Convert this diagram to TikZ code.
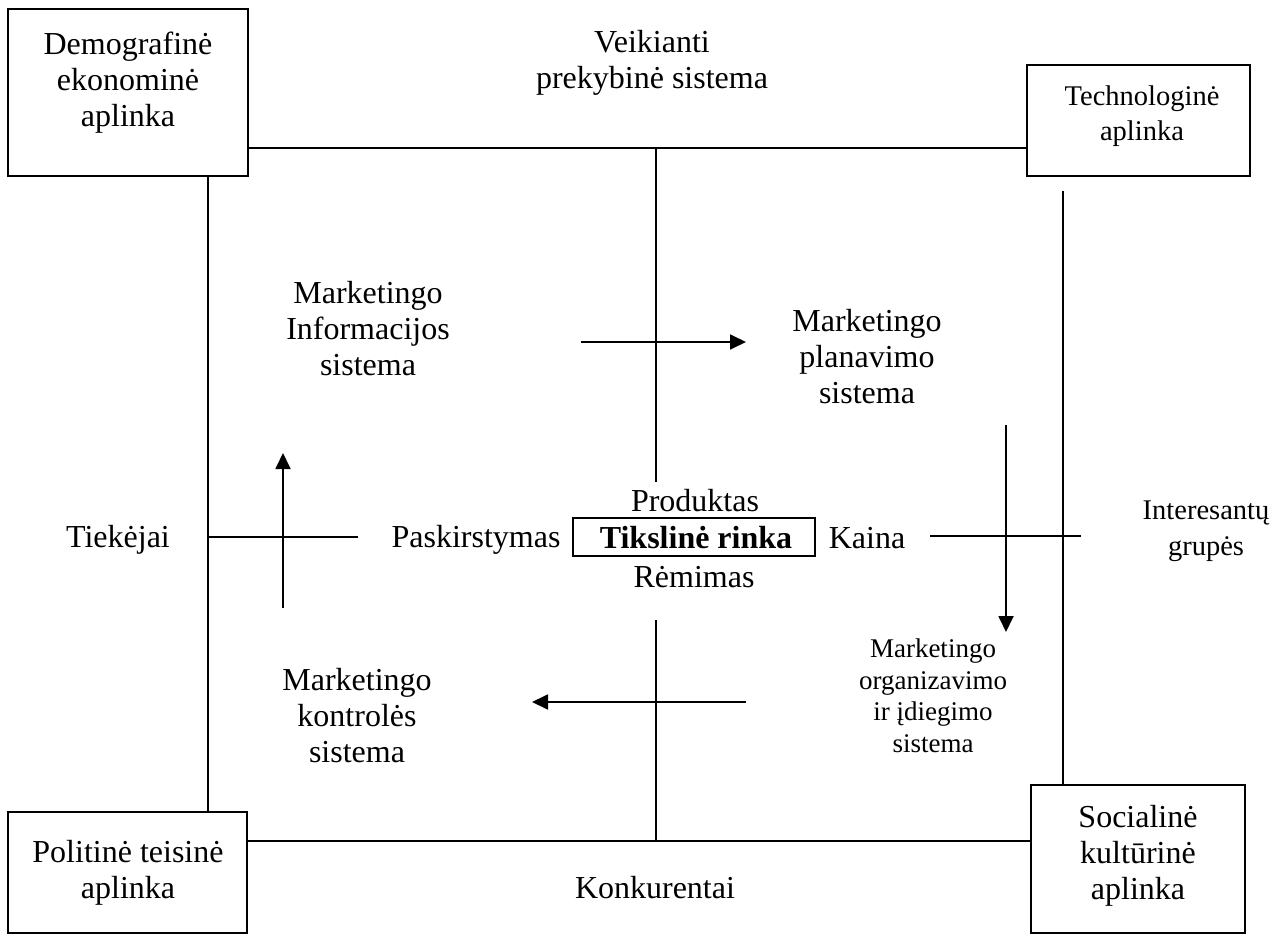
\documentclass[tikz,border=0pt]{standalone}
\usepackage{fontspec}
\setmainfont{Liberation Serif}
\usetikzlibrary{arrows.meta}
\begin{document}
\begin{tikzpicture}[x=1pt,y=-1pt,
  line/.style={line width=1.8pt},
  frame/.style={draw,line width=1.8pt,rectangle,inner sep=0pt},
  lbl/.style={align=center,inner sep=0pt,font=\fontsize{32}{36}\selectfont},
  smalllbl/.style={align=center,inner sep=0pt,font=\fontsize{27}{31.5}\selectfont},
  arr/.style={line width=1.8pt,-{Triangle[length=16pt,width=15pt]}}]
\useasboundingbox (0,0) rectangle (1288,936);

% corner boxes
\node[frame,minimum width=240pt,minimum height=167pt] (tl) at (128,92.5) {};
\node[frame,minimum width=223pt,minimum height=111pt] (tr) at (1138.5,120.5) {};
\node[frame,minimum width=239pt,minimum height=121pt] (bl) at (127.5,872.5) {};
\node[frame,minimum width=214pt,minimum height=148pt] (br) at (1138,859) {};

% corner texts
\node[lbl] (demo) at (128,83) {Demografinė\\ekonominė\\aplinka};
\node[lbl,font=\fontsize{28.5}{34.5}\selectfont] (tech) at (1142,116) {Technologinė\\aplinka};
\node[lbl] (polit) at (128,873) {Politinė teisinė\\aplinka};
\node[lbl] (soc) at (1138,856) {Socialinė\\kultūrinė\\aplinka};

% outer labels
\node[lbl] (veik) at (652,63) {Veikianti\\prekybinė sistema};
\node[lbl,anchor=base] (tiek) at (118,547) {Tiekėjai};
\node[lbl,font=\fontsize{28.5}{36}\selectfont] (inter) at (1206,531) {Interesantų\\grupės};
\node[lbl,anchor=base] (konk) at (655,898) {Konkurentai};

% centre
\node[frame,minimum width=242pt,minimum height=38pt] (target) at (694,537) {};
\node[lbl,anchor=base,font=\fontsize{32}{36}\selectfont\bfseries] (targettxt) at (696,548) {Tikslinė rinka};
\node[lbl,anchor=base] (prod) at (695,511) {Produktas};
\node[lbl,anchor=base] (rem) at (694,587) {Rėmimas};
\node[lbl,anchor=base] (pask) at (476,547) {Paskirstymas};
\node[lbl,anchor=base] (kaina) at (867,548) {Kaina};

% marketing subsystems
\node[lbl] (mis) at (368,329) {Marketingo\\Informacijos\\sistema};
\node[lbl] (mps) at (867,357) {Marketingo\\planavimo\\sistema};
\node[smalllbl] (mois) at (933,696) {Marketingo\\organizavimo\\ir įdiegimo\\sistema};
\node[lbl] (mks) at (357,716) {Marketingo\\kontrolės\\sistema};

% reference coordinates for the frame lines
\coordinate (topY) at (0,148);
\coordinate (botY) at (0,841);
\coordinate (leftX) at (208,0);
\coordinate (rightTop) at (1063,191);
\coordinate (cTopA) at (656,148);
\coordinate (cTopB) at (656,482);
\coordinate (cBotA) at (656,620);
\coordinate (hLeftA) at (208,537);
\coordinate (hLeftB) at (358,537);
\coordinate (hRightA) at (930,536);
\coordinate (hRightB) at (1081,536);

% frame lines
\draw[line] (tl.east |- topY) -- (tr.west |- topY);
\draw[line] (bl.east |- botY) -- (br.west |- botY);
\draw[line] (tl.south -| leftX) -- (bl.north -| leftX);
\draw[line] (rightTop) -- (br.north -| rightTop);
\draw[line] (cTopA) -- (cTopB);
\draw[line] (cBotA) -- (cBotA |- botY);
\draw[line] (hLeftA) -- (hLeftB);
\draw[line] (hRightA) -- (hRightB);

% flow arrows
\coordinate (a1s) at (581,342);  \coordinate (a1e) at (746,342);
\coordinate (a2s) at (1006,425); \coordinate (a2e) at (1006,632);
\coordinate (a3s) at (746,702);  \coordinate (a3e) at (532,702);
\coordinate (a4s) at (283,608);  \coordinate (a4e) at (283,453);
\draw[arr] (a1s) -- (a1e);
\draw[arr] (a2s) -- (a2e);
\draw[arr] (a3s) -- (a3e);
\draw[arr] (a4s) -- (a4e);
\end{tikzpicture}
\end{document}
